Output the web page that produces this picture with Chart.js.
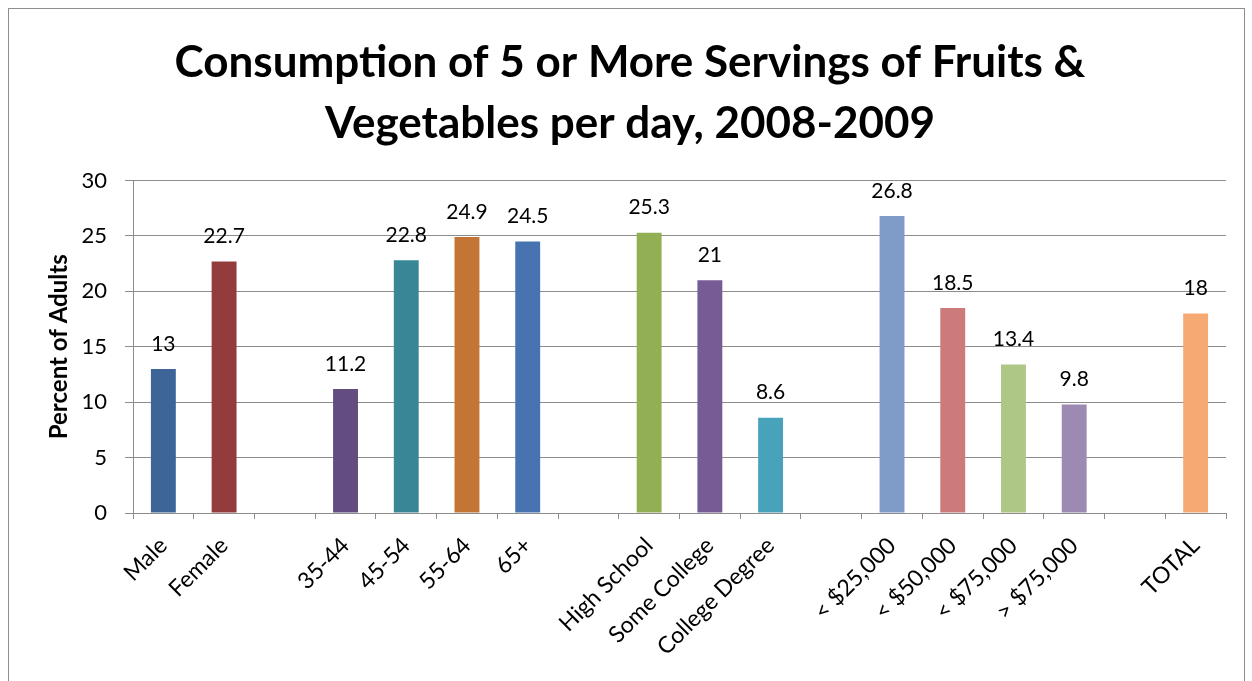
<!DOCTYPE html>
<html>
<head>
<meta charset="utf-8">
<script src="https://cdn.jsdelivr.net/npm/chart.js@4.4.1/dist/chart.umd.min.js"></script>
<style>
  html, body { margin: 0; padding: 0; background: #fff; }
  #wrap { position: relative; width: 1252px; height: 681px; overflow: hidden; }
  #frame { position: absolute; left: 8px; top: 8px; width: 1237px; height: 700px; border: 1px solid #8e8e8e; box-sizing: border-box; }
  canvas { position: absolute; left: 0; top: 0; }
</style>
</head>
<body>
<div id="wrap">
  <div id="frame"></div>
  <canvas id="chart" width="1252" height="681"></canvas>
</div>
<script>
// Data (blank categories are the gaps between groups)
const categories = ['Male', 'Female', '', '35-44', '45-54', '55-64', '65+', '',
  'High School', 'Some College', 'College Degree', '',
  '< $25,000', '< $50,000', '< $75,000', '> $75,000', '', 'TOTAL'];
const percentAdults = [13, 22.7, null, 11.2, 22.8, 24.9, 24.5, null,
  25.3, 21, 8.6, null, 26.8, 18.5, 13.4, 9.8, null, 18];
const barColors = ['#3e6597', '#943c3b', '#ffffff', '#634c7f', '#388797', '#c27534', '#4774b0', '#ffffff',
  '#93af54', '#765b95', '#47a2ba', '#ffffff',
  '#7f9bc8', '#cb7b7a', '#aec686', '#9c8ab3', '#ffffff', '#f7a974'];
const titleLines = ['Consumption of 5 or More Servings of Fruits &', 'Vegetables per day, 2008-2009'];
const yMin = 0, yMax = 30, yStep = 5;

const FONT = 'Lato';
const GRID = '#8c8c8c';

// value labels above each bar
const valueLabels = {
  id: 'valueLabels',
  afterDatasetsDraw(chart) {
    const ctx = chart.ctx;
    const meta = chart.getDatasetMeta(0);
    ctx.save();
    ctx.font = '21px ' + FONT;
    ctx.fillStyle = '#000';
    ctx.textAlign = 'center';
    ctx.textBaseline = 'middle';
    meta.data.forEach((bar, i) => {
      const v = percentAdults[i];
      if (v == null) return;
      ctx.fillText(String(v), bar.x, bar.y - 25);
    });
    ctx.restore();
  }
};

new Chart(document.getElementById('chart'), {
  type: 'bar',
  data: {
    labels: categories,
    datasets: [{
      data: percentAdults,
      backgroundColor: barColors,
      borderWidth: 0,
      categoryPercentage: 1,
      barPercentage: 0.41
    }]
  },
  options: {
    responsive: false,
    animation: false,
    layout: { padding: { left: 34, right: 26, top: 0, bottom: 0 } },
    plugins: {
      legend: { display: false },
      tooltip: { enabled: false },
      title: {
        display: true,
        text: titleLines,
        color: '#000',
        font: { family: FONT, size: 44, weight: 'bold', lineHeight: 1.37 },
        padding: { top: 33, bottom: 27 }
      }
    },
    scales: {
      x: {
        afterFit: (scale) => { scale.height = 168; },
        grid: { drawOnChartArea: false, drawTicks: true, tickLength: 6, color: GRID, offset: true },
        border: { display: true, color: GRID },
        ticks: {
          autoSkip: false, minRotation: 45, maxRotation: 45,
          color: '#000', padding: 13,
          font: { family: FONT, size: 23 }
        }
      },
      y: {
        min: yMin, max: yMax,
        afterFit: (scale) => { scale.width = 99; },
        grid: { color: GRID, tickLength: 8, lineWidth: 1 },
        border: { display: true, color: GRID },
        ticks: {
          stepSize: yStep, color: '#000', padding: 18,
          font: { family: FONT, size: 22 }
        },
        title: {
          display: true, text: 'Percent of Adults', color: '#000',
          font: { family: FONT, size: 24, weight: 'bold' },
          padding: { top: 11, bottom: 0 }
        }
      }
    }
  },
  plugins: [valueLabels]
});
</script>
</body>
</html>
